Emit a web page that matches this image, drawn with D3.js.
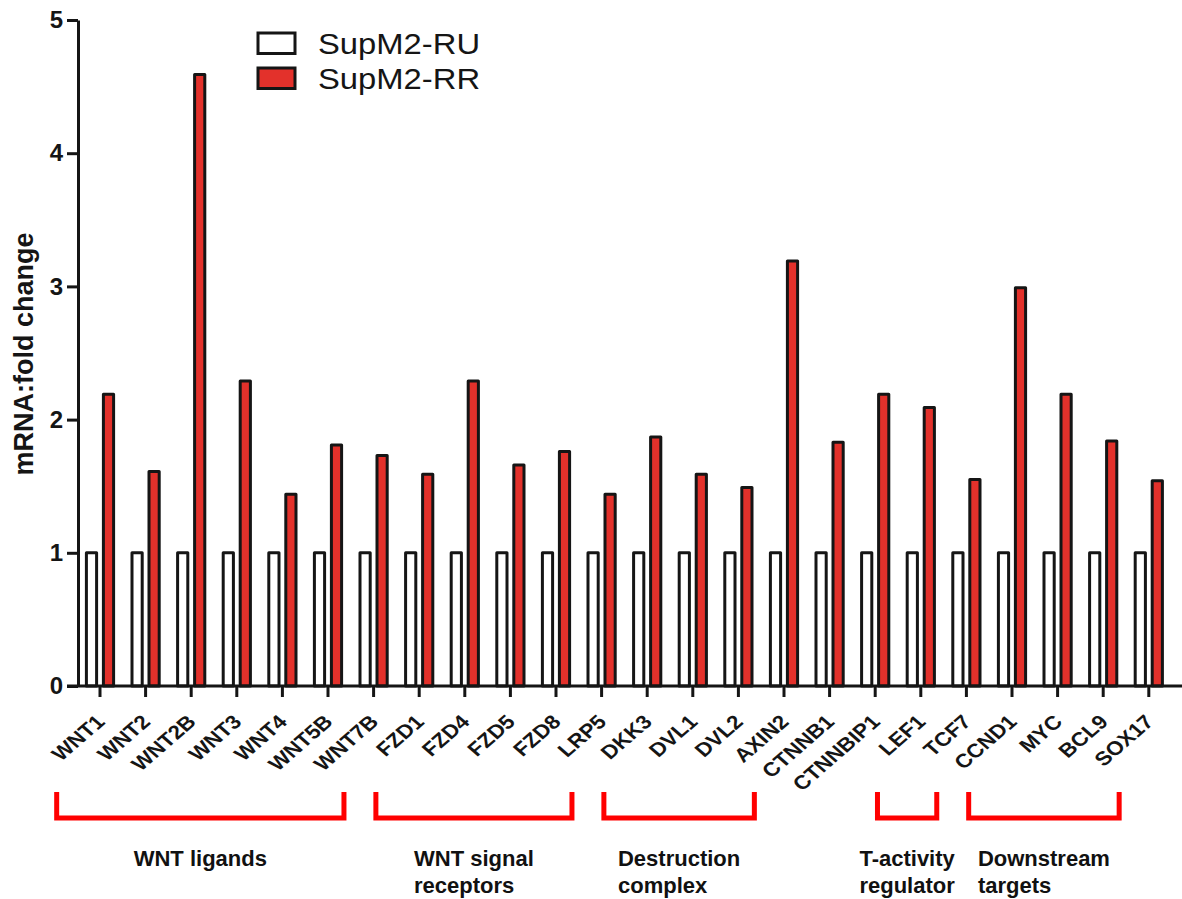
<!DOCTYPE html>
<html>
<head>
<meta charset="utf-8">
<script src="https://cdn.jsdelivr.net/npm/d3@7/dist/d3.min.js"></script>
<style>
  html, body { margin: 0; padding: 0; background: #fff; }
  svg { display: block; font-family: Arial, "Liberation Sans", sans-serif; }
</style>
</head>
<body>
<svg id="chart" width="1182" height="899"></svg>
<script>
// Genes on the x axis
const genes = ["WNT1", "WNT2", "WNT2B", "WNT3", "WNT4", "WNT5B", "WNT7B",
  "FZD1", "FZD4", "FZD5", "FZD8", "LRP5", "DKK3", "DVL1", "DVL2", "AXIN2",
  "CTNNB1", "CTNNBIP1", "LEF1", "TCF7", "CCND1", "MYC", "BCL9", "SOX17"];

// Series names
const seriesNames = ["SupM2-RU", "SupM2-RR"];

// Fold change per gene (RU is the reference, 1.0)
const valuesRU = [1, 1, 1, 1, 1, 1, 1, 1, 1, 1, 1, 1, 1, 1, 1, 1, 1, 1, 1, 1, 1, 1, 1, 1];
const valuesRR = [2.19, 1.61, 4.59, 2.29, 1.44, 1.81, 1.73, 1.59, 2.29, 1.66, 1.76, 1.44,
  1.87, 1.59, 1.49, 3.19, 1.83, 2.19, 2.09, 1.55, 2.99, 2.19, 1.84, 1.54];

// Y axis ticks
const yTicks = [0, 1, 2, 3, 4, 5];

// Pathway groups shown under the axis: first gene, last gene, caption lines
const groupFirst = ["WNT1", "FZD1", "DKK3", "LEF1", "CCND1"];
const groupLast  = ["WNT5B", "FZD8", "DVL2", "LEF1", "BCL9"];
const groupLabels = [["WNT ligands"], ["WNT signal", "receptors"], ["Destruction", "complex"],
  ["T-activity", "regulator"], ["Downstream", "targets"]];

const colors = { "SupM2-RU": "#ffffff", "SupM2-RR": "#e3312b" };
const seriesValues = { "SupM2-RU": valuesRU, "SupM2-RR": valuesRR };

const svg = d3.select("#chart");
svg.append("rect").attr("width", 1182).attr("height", 899).attr("fill", "#fff");

const axisX0 = 78, step = 45.6;
const x = d3.scaleBand().domain(genes).range([axisX0 - 0.8, axisX0 - 0.8 + step * genes.length]).padding(0);
const y = d3.scaleLinear().domain([0, 5]).range([686, 20]);
const x1 = d3.scaleBand().domain(seriesNames).range([-13.6, 13.6]).paddingInner(0.4).paddingOuter(0);

const center = g => x(g) + x.bandwidth() / 2;

// Bars
const rows = [];
genes.forEach((g, i) => seriesNames.forEach(s => rows.push({ gene: g, series: s, value: seriesValues[s][i] })));

svg.append("g").selectAll("rect")
  .data(rows)
  .join("rect")
  .attr("x", d => center(d.gene) + x1(d.series))
  .attr("y", d => y(d.value))
  .attr("width", x1.bandwidth())
  .attr("height", d => y(0) - y(d.value))
  .attr("fill", d => colors[d.series])
  .attr("stroke", "#151515")
  .attr("stroke-width", 3)
  .attr("stroke-linejoin", "round");

// Y axis
const yAxis = svg.append("g")
  .attr("transform", `translate(${axisX0},0)`)
  .call(d3.axisLeft(y).tickValues(yTicks).tickFormat(d3.format("d")).tickSize(11).tickSizeOuter(0).tickPadding(4));
yAxis.select(".domain").attr("stroke", "#151515").attr("stroke-width", 3);
yAxis.selectAll(".tick line").attr("stroke", "#151515").attr("stroke-width", 3);
yAxis.selectAll(".tick text")
  .attr("font-size", 24).attr("font-weight", "bold").attr("fill", "#151515")
  .attr("font-family", "Arial, 'Liberation Sans', sans-serif");

// X axis
const xAxis = svg.append("g")
  .attr("transform", `translate(0,${y(0)})`)
  .call(d3.axisBottom(x).tickSize(11).tickSizeOuter(0));
xAxis.select(".domain").attr("d", `M${axisX0 - 11},0H1182`).attr("stroke", "#151515").attr("stroke-width", 3);
xAxis.selectAll(".tick line").attr("stroke", "#151515").attr("stroke-width", 3);
xAxis.selectAll(".tick text")
  .attr("x", 0).attr("y", 0).attr("dy", 0)
  .attr("transform", "translate(6,37) scale(1.15,1) rotate(-45)")
  .attr("text-anchor", "end")
  .attr("font-size", 19.5).attr("font-weight", "bold").attr("fill", "#151515")
  .attr("font-family", "Arial, 'Liberation Sans', sans-serif");

// Y axis title
svg.append("text")
  .attr("transform", "translate(33,354) rotate(-90)")
  .attr("text-anchor", "middle")
  .attr("font-size", 27).attr("font-weight", "bold").attr("fill", "#151515")
  .text("mRNA:fold change");

// Legend
const legend = svg.append("g").selectAll("g")
  .data(seriesNames)
  .join("g")
  .attr("transform", (d, i) => `translate(258,${33 + i * 35})`);
legend.append("rect")
  .attr("width", 37).attr("height", 20.5)
  .attr("fill", d => colors[d])
  .attr("stroke", "#151515").attr("stroke-width", 3);
legend.append("text")
  .attr("transform", "translate(60,20.5) scale(1.13,1)")
  .attr("font-size", 29).attr("fill", "#151515")
  .text(d => d);

// Pathway brackets and captions
const groups = groupFirst.map((f, i) => ({
  left: center(f) - 0.95 * step,
  right: center(groupLast[i]) + 0.35 * step,
  lines: groupLabels[i]
}));

const gb = svg.append("g").selectAll("g").data(groups).join("g");
gb.append("path")
  .attr("d", d => `M${d.left},792V818H${d.right}V792`)
  .attr("fill", "none")
  .attr("stroke", "#ff0000")
  .attr("stroke-width", 5)
  .attr("stroke-linejoin", "miter");

gb.each(function(d) {
  const g = d3.select(this);
  const mid = (d.left + d.right) / 2;
  const first = g.append("text")
    .attr("x", mid).attr("y", 866)
    .attr("text-anchor", "middle")
    .attr("font-size", 22).attr("font-weight", "bold").attr("fill", "#111")
    .text(d.lines[0]);
  const startX = mid - first.node().getComputedTextLength() / 2;
  d.lines.slice(1).forEach((line, k) => {
    g.append("text")
      .attr("x", startX).attr("y", 893 + k * 27)
      .attr("font-size", 22).attr("font-weight", "bold").attr("fill", "#111")
      .text(line);
  });
});
</script>
</body>
</html>
